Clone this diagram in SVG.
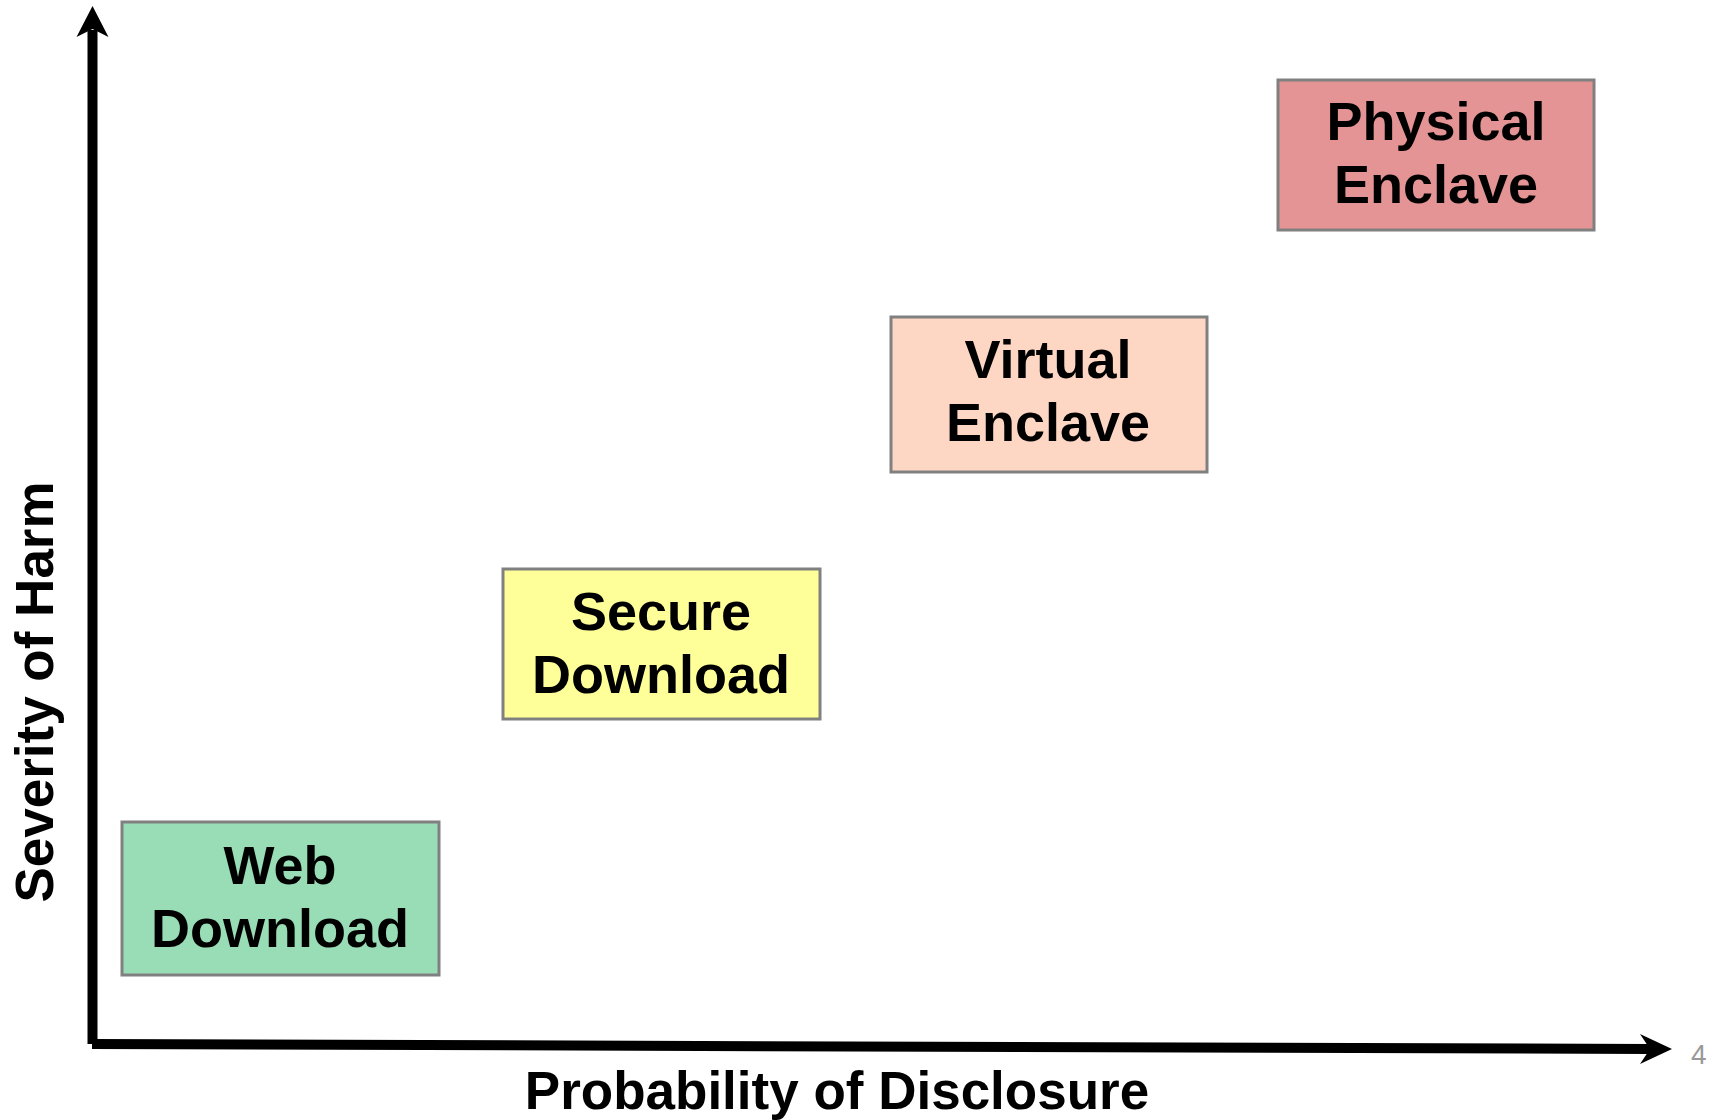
<svg xmlns="http://www.w3.org/2000/svg" width="1717" height="1120" viewBox="0 0 1717 1120">
<style>
.box{stroke:#808080;stroke-width:3}
.t{font-family:"Liberation Sans",Arial,sans-serif;font-weight:bold;font-size:54px;fill:#000;text-anchor:middle}
.ax{stroke:#000;stroke-width:10;fill:none}
</style>
<rect width="1717" height="1120" fill="#fff"/>
<g id="connectors">
<line class="ax" x1="92.5" y1="1044" x2="92.5" y2="30"/>
<polygon points="92.5,6 108.5,37 92.5,29 76.5,37" fill="#000"/>
<line class="ax" x1="92" y1="1044" x2="1650" y2="1049"/>
<polygon points="1672,1049 1640,1064 1650,1049 1640,1034" fill="#000"/>
</g>
<g id="web-download">
<rect class="box" x="122" y="822" width="317" height="153" fill="#99DDB7"/>
<text class="t" x="280" y="884">Web</text>
<text class="t" x="280" y="947">Download</text>
</g>
<g id="secure-download">
<rect class="box" x="503" y="569" width="317" height="150" fill="#FFFF99"/>
<text class="t" x="661" y="630">Secure</text>
<text class="t" x="661" y="693">Download</text>
</g>
<g id="virtual-enclave">
<rect class="box" x="891" y="317" width="316" height="155" fill="#FDD7C3"/>
<text class="t" x="1048" y="378">Virtual</text>
<text class="t" x="1048" y="441">Enclave</text>
</g>
<g id="physical-enclave">
<rect class="box" x="1278" y="80" width="316" height="150" fill="#E49494"/>
<text class="t" x="1436" y="140">Physical</text>
<text class="t" x="1436" y="203">Enclave</text>
</g>
<g id="axis-labels">
<text class="t" style="font-size:53px" transform="translate(53,692) rotate(-90)">Severity of Harm</text>
<text class="t" style="font-size:53px" x="837" y="1109">Probability of Disclosure</text>
<text x="1691" y="1064" font-family="Liberation Sans,Arial,sans-serif" font-size="28" fill="#999">4</text>
</g>
</svg>
